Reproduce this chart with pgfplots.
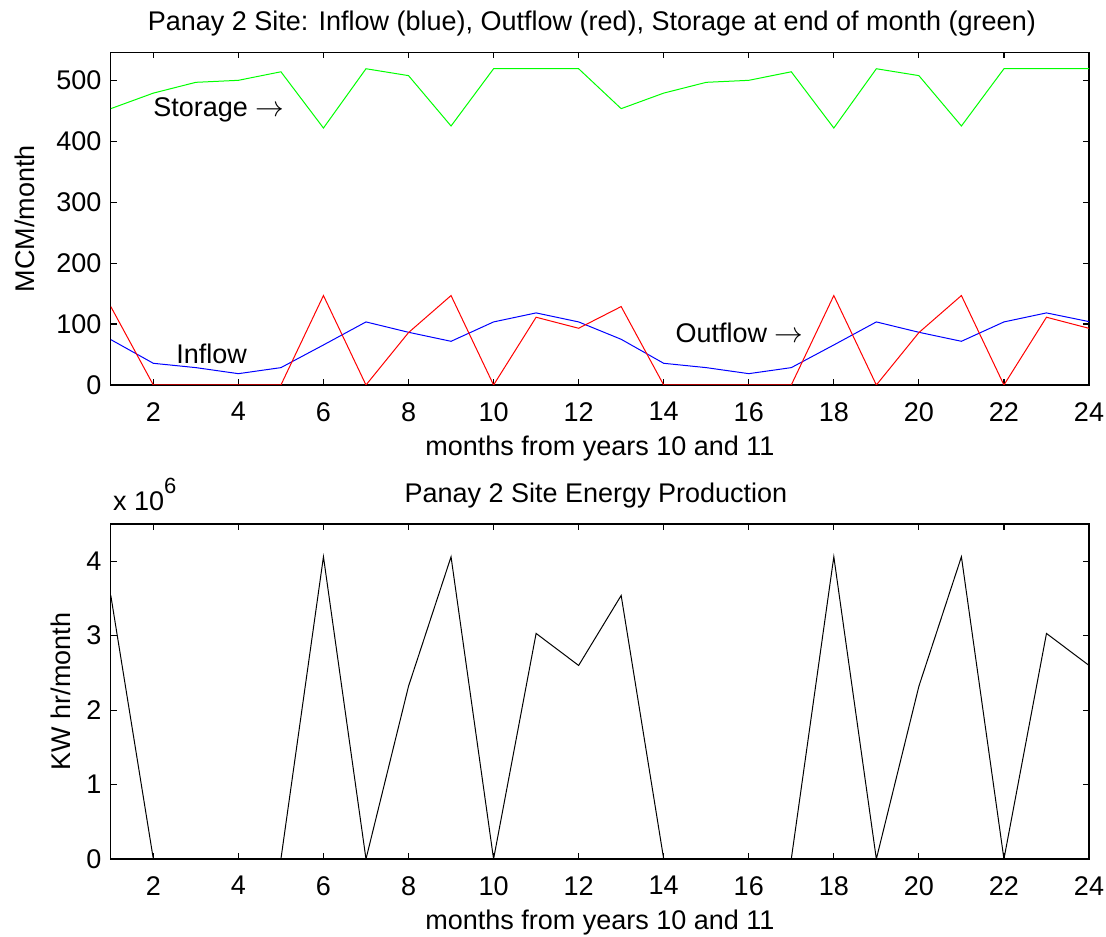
\documentclass[border=0pt]{standalone}
\usepackage{fontspec}
\setmainfont{Liberation Sans}
\usepackage{pgfplots}
\pgfplotsset{compat=1.18}

% month, inflow, outflow, storage (MCM/month)
\pgfplotstableread{
m  inflow outflow storage
1  74.5   128.7   453.5
2  35.6   0       479
3  28.5   0       496.7
4  18.6   0       500
5  28.5   0       514
6  65.7   146.8   421.7
7  103.5  0       519
8  86.5   86      507.7
9  71.7   146.8   425
10 103.5  0       519
11 118.3  111.2   519
12 103.5  93.1    519
13 75     128.7   453.5
14 35.6   0       479
15 28.5   0       496.7
16 18.6   0       500
17 28.5   0       514
18 65.7   146.8   421.7
19 103.5  0       519
20 86.5   86      507.7
21 71.7   146.8   425
22 103.5  0       519
23 118.3  111.2   519
24 104    93      519
}\flows

% month, energy (KW hr/month)
\pgfplotstableread{
m  energy
1  3540000
2  0
3  0
4  0
5  0
6  4060000
7  0
8  2320000
9  4060000
10 0
11 3030000
12 2600000
13 3540000
14 0
15 0
16 0
17 0
18 4060000
19 0
20 2320000
21 4060000
22 0
23 3030000
24 2600000
}\energy

\pgfplotsset{
  mlab/.style={
    scale only axis, width=489.1bp,
    xmin=1, xmax=24, xtick={2,4,...,24},
    tick align=inside, major tick length=3bp,
    axis line style={line width=0.6bp},
    every tick/.style={black, line width=0.6bp},
    /pgf/number format/assume math mode=true,
    xticklabel style={yshift=-4bp},
    xlabel={months from years 10 and 11},
    xlabel shift=-2bp,
    every axis plot/.append style={line width=0.5bp, mark=none},
  }
}

\begin{document}
\fontsize{13.5bp}{16bp}\selectfont
\begin{tikzpicture}
\useasboundingbox (0,0) rectangle (553bp,468.5bp);

\begin{axis}[mlab,
  at={(55.4bp,276bp)}, anchor=south west,
  height=166.35bp,
  ymin=0, ymax=546, ytick={0,100,...,500},
  ylabel={MCM/month}, ylabel shift=1.5bp,
  title={Panay 2 Site: Inflow (blue), Outflow (red), Storage at end of month (green)},
  title style={at={(rel axis cs:0.5,1)}, anchor=base, yshift=5bp, xshift=-4bp, inner sep=0pt},
]
\addplot[blue] table[x=m, y=inflow] {\flows};
\addplot[red] table[x=m, y=outflow] {\flows};
\addplot[green] table[x=m, y=storage] {\flows};
\node[anchor=base west, inner sep=0pt] at (axis cs:1.99,440) {Storage $\rightarrow$};
\node[anchor=base west, inner sep=0pt] at (axis cs:2.53,36) {Inflow};
\node[anchor=base west, inner sep=0pt] at (axis cs:14.27,69) {Outflow $\rightarrow$};
\end{axis}

\begin{axis}[mlab,
  at={(55.4bp,39bp)}, anchor=south west,
  height=167.5bp,
  ymin=0, ymax=4500000, ytick={0,1000000,...,4000000},
  scaled y ticks=base 10:-6,
  ytick scale label code/.code={x 10\raisebox{0.6em}{\fontsize{11bp}{11bp}\selectfont #1}},
  every y tick scale label/.style={at={(rel axis cs:0,1)}, anchor=base west, inner sep=0pt, yshift=7bp, xshift=1bp},
  ylabel={KW hr/month},
  every axis y label/.style={at={(rel axis cs:0,0.5)}, xshift=-15.5bp, rotate=90, anchor=south},
  title={Panay 2 Site Energy Production},
  title style={at={(rel axis cs:0.5,1)}, anchor=base, yshift=5bp, xshift=-2bp, inner sep=0pt},
]
\addplot[black] table[x=m, y=energy] {\energy};
\end{axis}
\end{tikzpicture}
\end{document}
